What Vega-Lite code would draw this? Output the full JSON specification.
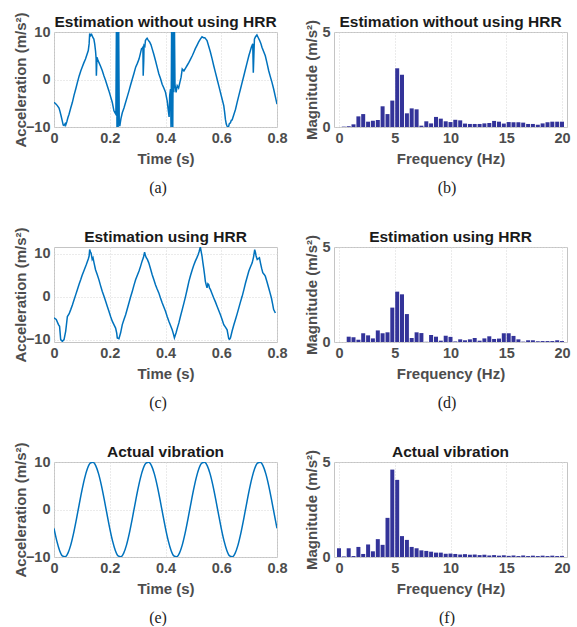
{
"$schema": "https://vega.github.io/schema/vega-lite/v6.json",
"padding": {"left": 12, "top": 11, "right": 0, "bottom": 0},
"background": "white",
"config": {
  "view": {"stroke": "#c4c4c4", "strokeWidth": 1},
  "axis": {"labelFont": "Liberation Sans", "labelFontWeight": "bold", "labelFontSize": 14.5, "labelColor": "#4d4d4d", "titleFont": "Liberation Sans", "titleFontWeight": "bold", "titleFontSize": 15, "titleColor": "#4d4d4d", "domain": false, "ticks": false, "gridColor": "#d6d6d6", "gridDash": [1, 2], "labelPadding": 4, "labelOverlap": false, "labelFlush": false},
  "axisX": {"titlePadding": 7},
  "axisY": {"titlePadding": 2},
  "title": {"font": "Liberation Sans", "fontSize": 15.5, "fontWeight": "bold", "color": "#1a1a1a", "frame": "group"}
},
"vconcat": [
 {"hconcat": [
  {"title": {"text": "(a)", "orient": "bottom", "font": "Liberation Serif", "fontSize": 16, "fontWeight": "normal", "color": "#222222", "offset": 13, "anchor": "middle", "dx": 104},
   "vconcat": [{
    "title": {"text": "Estimation without using HRR", "offset": -19},
    "width": 223, "height": 95,
    "data": {"values": [
{"t":0.000,"a":-4.8},{"t":0.006,"a":-5.1},{"t":0.012,"a":-5.5},{"t":0.018,"a":-6.0},{"t":0.021,"a":-6.6},{"t":0.026,"a":-7.8},{"t":0.030,"a":-8.8},{"t":0.033,"a":-9.6},{"t":0.036,"a":-9.7},{"t":0.040,"a":-9.3},{"t":0.042,"a":-9.6},{"t":0.046,"a":-8.9},{"t":0.050,"a":-8.0},{"t":0.054,"a":-7.3},{"t":0.060,"a":-6.0},{"t":0.066,"a":-4.8},{"t":0.072,"a":-3.3},{"t":0.078,"a":-2.0},{"t":0.084,"a":-0.6},{"t":0.090,"a":0.7},{"t":0.096,"a":1.8},{"t":0.101,"a":2.6},{"t":0.107,"a":3.5},{"t":0.113,"a":4.3},{"t":0.118,"a":5.2},{"t":0.123,"a":6.1},{"t":0.126,"a":7.5},{"t":0.128,"a":9.7},{"t":0.131,"a":9.2},{"t":0.135,"a":9.5},{"t":0.139,"a":8.9},{"t":0.143,"a":8.5},{"t":0.146,"a":7.5},{"t":0.149,"a":6.0},{"t":0.151,"a":4.5},{"t":0.152,"a":0.8},{"t":0.153,"a":2.5},{"t":0.154,"a":4.7},{"t":0.157,"a":4.2},{"t":0.161,"a":3.6},{"t":0.167,"a":2.8},{"t":0.173,"a":1.9},{"t":0.179,"a":0.8},{"t":0.185,"a":-0.2},{"t":0.191,"a":-1.3},{"t":0.197,"a":-2.4},{"t":0.203,"a":-3.6},{"t":0.209,"a":-4.8},{"t":0.215,"a":-6.6},{"t":0.219,"a":-7.0},{"t":0.222,"a":-7.3},{"t":0.224,"a":12},{"t":0.226,"a":-11},{"t":0.228,"a":12},{"t":0.230,"a":-11},{"t":0.232,"a":12},{"t":0.234,"a":-8.9},{"t":0.236,"a":-9.8},{"t":0.240,"a":-8.3},{"t":0.245,"a":-7.0},{"t":0.251,"a":-6.0},{"t":0.257,"a":-4.8},{"t":0.263,"a":-3.6},{"t":0.269,"a":-2.4},{"t":0.275,"a":-1.1},{"t":0.281,"a":0.1},{"t":0.287,"a":1.3},{"t":0.293,"a":2.6},{"t":0.299,"a":3.4},{"t":0.305,"a":4.3},{"t":0.310,"a":5.5},{"t":0.314,"a":6.5},{"t":0.317,"a":6.6},{"t":0.319,"a":6.8},{"t":0.320,"a":0.8},{"t":0.322,"a":4.0},{"t":0.323,"a":7.2},{"t":0.326,"a":7.0},{"t":0.328,"a":8.2},{"t":0.331,"a":8.5},{"t":0.334,"a":8.7},{"t":0.338,"a":8.3},{"t":0.343,"a":7.9},{"t":0.348,"a":7.3},{"t":0.352,"a":6.5},{"t":0.358,"a":5.3},{"t":0.364,"a":4.0},{"t":0.370,"a":2.6},{"t":0.376,"a":1.2},{"t":0.382,"a":0.2},{"t":0.388,"a":-1.0},{"t":0.394,"a":-1.8},{"t":0.400,"a":-2.7},{"t":0.406,"a":-4.5},{"t":0.410,"a":-6.5},{"t":0.413,"a":-7.9},{"t":0.415,"a":-3.4},{"t":0.418,"a":-2.0},{"t":0.420,"a":-11},{"t":0.422,"a":12},{"t":0.424,"a":-2.5},{"t":0.426,"a":-11},{"t":0.428,"a":12},{"t":0.430,"a":-2.7},{"t":0.432,"a":12},{"t":0.434,"a":-1.0},{"t":0.438,"a":-2.7},{"t":0.442,"a":-1.3},{"t":0.447,"a":-1.8},{"t":0.452,"a":-0.5},{"t":0.456,"a":0.5},{"t":0.460,"a":2.2},{"t":0.466,"a":1.8},{"t":0.472,"a":2.4},{"t":0.478,"a":3.0},{"t":0.484,"a":3.6},{"t":0.490,"a":4.3},{"t":0.496,"a":5.0},{"t":0.502,"a":5.8},{"t":0.507,"a":6.5},{"t":0.513,"a":7.2},{"t":0.519,"a":7.9},{"t":0.525,"a":8.5},{"t":0.531,"a":9.0},{"t":0.536,"a":8.8},{"t":0.541,"a":8.8},{"t":0.545,"a":8.5},{"t":0.549,"a":8.2},{"t":0.555,"a":7.0},{"t":0.561,"a":5.8},{"t":0.567,"a":4.4},{"t":0.573,"a":2.9},{"t":0.579,"a":1.5},{"t":0.585,"a":0.1},{"t":0.591,"a":-1.3},{"t":0.597,"a":-2.7},{"t":0.603,"a":-4.1},{"t":0.609,"a":-5.5},{"t":0.612,"a":-6.8},{"t":0.615,"a":-8.4},{"t":0.618,"a":-9.4},{"t":0.621,"a":-9.8},{"t":0.625,"a":-10.2},{"t":0.629,"a":-9.3},{"t":0.633,"a":-9.1},{"t":0.636,"a":-8.6},{"t":0.639,"a":-8.5},{"t":0.645,"a":-7.4},{"t":0.651,"a":-6.3},{"t":0.657,"a":-4.8},{"t":0.663,"a":-3.4},{"t":0.669,"a":-2.0},{"t":0.675,"a":-0.6},{"t":0.681,"a":0.8},{"t":0.687,"a":2.2},{"t":0.693,"a":3.6},{"t":0.699,"a":5.0},{"t":0.704,"a":6.0},{"t":0.708,"a":6.8},{"t":0.713,"a":7.5},{"t":0.715,"a":1.4},{"t":0.717,"a":5.0},{"t":0.719,"a":8.5},{"t":0.723,"a":9.0},{"t":0.728,"a":9.4},{"t":0.732,"a":8.9},{"t":0.737,"a":8.3},{"t":0.742,"a":7.6},{"t":0.746,"a":6.8},{"t":0.752,"a":5.9},{"t":0.758,"a":5.0},{"t":0.764,"a":3.5},{"t":0.770,"a":1.9},{"t":0.776,"a":0.6},{"t":0.782,"a":-0.6},{"t":0.788,"a":-2.0},{"t":0.794,"a":-3.6},{"t":0.800,"a":-5.2}
    ]},
    "mark": {"type": "line", "color": "#0072BD", "strokeWidth": 1.5, "clip": true},
    "encoding": {
      "x": {"field": "t", "type": "quantitative", "scale": {"domain": [0, 0.8], "nice": false}, "axis": {"title": "Time (s)", "values": [0, 0.2, 0.4, 0.6, 0.8], "format": "~g"}},
      "y": {"field": "a", "type": "quantitative", "scale": {"domain": [-10, 10], "nice": false}, "axis": {"title": "Acceleration (m/s²)", "values": [-10, 0, 10], "titlePadding": -3}}
    }
   }]
  },
  {"title": {"text": "(b)", "orient": "bottom", "font": "Liberation Serif", "fontSize": 16, "fontWeight": "normal", "color": "#222222", "offset": 13, "anchor": "middle", "dx": 113},
   "vconcat": [{
    "title": {"text": "Estimation without using HRR", "offset": -11},
    "width": 233, "height": 95,
    "data": {"values": [
{"f":0.43,"m":0.02},{"f":0.87,"m":0.04},{"f":1.30,"m":0.14},{"f":1.74,"m":0.56},{"f":2.17,"m":0.68},{"f":2.61,"m":0.28},{"f":3.04,"m":0.33},{"f":3.48,"m":0.37},{"f":3.91,"m":1.09},{"f":4.35,"m":0.68},{"f":4.78,"m":1.39},{"f":5.22,"m":3.09},{"f":5.65,"m":2.75},{"f":6.09,"m":0.72},{"f":6.52,"m":0.98},{"f":6.96,"m":0.93},{"f":7.39,"m":0.07},{"f":7.83,"m":0.30},{"f":8.26,"m":0.19},{"f":8.70,"m":0.53},{"f":9.13,"m":0.44},{"f":9.57,"m":0.30},{"f":10.00,"m":0.26},{"f":10.43,"m":0.38},{"f":10.87,"m":0.35},{"f":11.30,"m":0.18},{"f":11.74,"m":0.16},{"f":12.17,"m":0.16},{"f":12.61,"m":0.16},{"f":13.04,"m":0.19},{"f":13.48,"m":0.21},{"f":13.91,"m":0.32},{"f":14.35,"m":0.28},{"f":14.78,"m":0.18},{"f":15.22,"m":0.26},{"f":15.65,"m":0.25},{"f":16.09,"m":0.25},{"f":16.52,"m":0.23},{"f":16.96,"m":0.16},{"f":17.39,"m":0.16},{"f":17.83,"m":0.12},{"f":18.26,"m":0.19},{"f":18.70,"m":0.25},{"f":19.13,"m":0.28},{"f":19.57,"m":0.28},{"f":20.00,"m":0.28}
    ]},
    "mark": {"type": "bar", "color": "#333399", "width": 4, "clip": true},
    "encoding": {
      "x": {"field": "f", "type": "quantitative", "scale": {"domain": [0, 20], "nice": false}, "axis": {"title": "Frequency (Hz)", "values": [0, 5, 10, 15, 20]}},
      "y": {"field": "m", "type": "quantitative", "scale": {"domain": [0, 5], "nice": false}, "axis": {"title": "Magnitude (m/s²)", "values": [0, 5]}}
    }
   }]
  }
 ], "spacing": 16},
 {"hconcat": [
  {"title": {"text": "(c)", "orient": "bottom", "font": "Liberation Serif", "fontSize": 16, "fontWeight": "normal", "color": "#222222", "offset": 13, "anchor": "middle", "dx": 104},
   "vconcat": [{
    "title": {"text": "Estimation using HRR", "offset": -19},
    "width": 223, "height": 95,
    "data": {"values": [
{"t":0.000,"a":-4.9},{"t":0.008,"a":-5.3},{"t":0.016,"a":-6.5},{"t":0.020,"a":-6.9},{"t":0.024,"a":-10.0},{"t":0.030,"a":-10.4},{"t":0.036,"a":-10.0},{"t":0.042,"a":-8.0},{"t":0.048,"a":-4.6},{"t":0.054,"a":-4.0},{"t":0.060,"a":-3.0},{"t":0.066,"a":-1.9},{"t":0.072,"a":-0.7},{"t":0.078,"a":0.5},{"t":0.084,"a":1.7},{"t":0.090,"a":2.9},{"t":0.096,"a":4.0},{"t":0.101,"a":5.0},{"t":0.107,"a":6.0},{"t":0.116,"a":7.5},{"t":0.123,"a":8.8},{"t":0.126,"a":9.5},{"t":0.128,"a":11.0},{"t":0.131,"a":10.3},{"t":0.133,"a":10.2},{"t":0.137,"a":8.7},{"t":0.140,"a":9.1},{"t":0.144,"a":7.8},{"t":0.149,"a":6.3},{"t":0.155,"a":5.2},{"t":0.161,"a":4.0},{"t":0.167,"a":2.6},{"t":0.173,"a":1.3},{"t":0.179,"a":0.2},{"t":0.185,"a":-1.0},{"t":0.191,"a":-2.2},{"t":0.197,"a":-3.4},{"t":0.203,"a":-4.6},{"t":0.209,"a":-5.7},{"t":0.215,"a":-6.5},{"t":0.221,"a":-7.3},{"t":0.225,"a":-8.5},{"t":0.227,"a":-9.6},{"t":0.233,"a":-9.8},{"t":0.239,"a":-8.4},{"t":0.245,"a":-6.5},{"t":0.251,"a":-5.3},{"t":0.257,"a":-4.2},{"t":0.263,"a":-2.8},{"t":0.269,"a":-1.4},{"t":0.275,"a":0.0},{"t":0.281,"a":1.3},{"t":0.287,"a":2.7},{"t":0.293,"a":4.0},{"t":0.299,"a":5.0},{"t":0.305,"a":6.0},{"t":0.311,"a":7.2},{"t":0.316,"a":8.3},{"t":0.321,"a":9.2},{"t":0.325,"a":10.4},{"t":0.328,"a":9.6},{"t":0.331,"a":9.1},{"t":0.335,"a":8.7},{"t":0.340,"a":7.9},{"t":0.346,"a":6.6},{"t":0.352,"a":5.2},{"t":0.358,"a":4.0},{"t":0.364,"a":2.8},{"t":0.370,"a":1.8},{"t":0.376,"a":0.9},{"t":0.382,"a":-0.3},{"t":0.388,"a":-1.4},{"t":0.394,"a":-2.4},{"t":0.400,"a":-3.4},{"t":0.406,"a":-4.6},{"t":0.412,"a":-5.7},{"t":0.418,"a":-6.7},{"t":0.424,"a":-7.7},{"t":0.428,"a":-8.6},{"t":0.432,"a":-9.6},{"t":0.435,"a":-9.0},{"t":0.438,"a":-8.4},{"t":0.443,"a":-7.2},{"t":0.448,"a":-6.1},{"t":0.454,"a":-4.5},{"t":0.460,"a":-3.0},{"t":0.466,"a":-1.5},{"t":0.472,"a":0.1},{"t":0.478,"a":1.8},{"t":0.484,"a":3.6},{"t":0.490,"a":5.0},{"t":0.496,"a":6.3},{"t":0.501,"a":7.3},{"t":0.507,"a":8.3},{"t":0.512,"a":9.0},{"t":0.517,"a":9.8},{"t":0.521,"a":10.6},{"t":0.525,"a":11.6},{"t":0.528,"a":10.5},{"t":0.531,"a":9.5},{"t":0.534,"a":8.0},{"t":0.537,"a":6.7},{"t":0.540,"a":5.2},{"t":0.543,"a":3.6},{"t":0.546,"a":2.8},{"t":0.549,"a":2.1},{"t":0.552,"a":3.0},{"t":0.555,"a":2.8},{"t":0.558,"a":2.0},{"t":0.561,"a":1.7},{"t":0.567,"a":0.7},{"t":0.573,"a":-0.3},{"t":0.579,"a":-1.2},{"t":0.585,"a":-2.2},{"t":0.591,"a":-3.2},{"t":0.597,"a":-4.2},{"t":0.603,"a":-5.3},{"t":0.609,"a":-6.5},{"t":0.615,"a":-7.1},{"t":0.621,"a":-7.7},{"t":0.624,"a":-8.8},{"t":0.627,"a":-9.8},{"t":0.630,"a":-9.9},{"t":0.633,"a":-9.6},{"t":0.636,"a":-8.8},{"t":0.639,"a":-8.0},{"t":0.645,"a":-6.6},{"t":0.651,"a":-5.3},{"t":0.657,"a":-4.0},{"t":0.663,"a":-2.6},{"t":0.669,"a":-1.2},{"t":0.675,"a":0.1},{"t":0.681,"a":1.6},{"t":0.687,"a":3.2},{"t":0.693,"a":4.6},{"t":0.699,"a":6.0},{"t":0.705,"a":7.0},{"t":0.711,"a":7.9},{"t":0.716,"a":9.3},{"t":0.720,"a":11.0},{"t":0.723,"a":10.2},{"t":0.725,"a":9.5},{"t":0.729,"a":8.7},{"t":0.733,"a":8.9},{"t":0.737,"a":9.1},{"t":0.741,"a":7.8},{"t":0.745,"a":6.6},{"t":0.749,"a":5.6},{"t":0.754,"a":5.2},{"t":0.758,"a":4.8},{"t":0.764,"a":3.5},{"t":0.770,"a":2.1},{"t":0.775,"a":0.9},{"t":0.780,"a":-0.3},{"t":0.784,"a":-1.6},{"t":0.788,"a":-3.0},{"t":0.792,"a":-3.5},{"t":0.794,"a":-3.8}
    ]},
    "mark": {"type": "line", "color": "#0072BD", "strokeWidth": 1.5, "clip": true},
    "encoding": {
      "x": {"field": "t", "type": "quantitative", "scale": {"domain": [0, 0.8], "nice": false}, "axis": {"title": "Time (s)", "values": [0, 0.2, 0.4, 0.6, 0.8], "format": "~g"}},
      "y": {"field": "a", "type": "quantitative", "scale": {"domain": [-10.55, 11.6], "nice": false}, "axis": {"title": "Acceleration (m/s²)", "values": [-10, 0, 10], "titlePadding": -3}}
    }
   }]
  },
  {"title": {"text": "(d)", "orient": "bottom", "font": "Liberation Serif", "fontSize": 16, "fontWeight": "normal", "color": "#222222", "offset": 13, "anchor": "middle", "dx": 113},
   "vconcat": [{
    "title": {"text": "Estimation using HRR", "offset": -11},
    "width": 233, "height": 95,
    "data": {"values": [
{"f":0.87,"m":0.28},{"f":1.30,"m":0.25},{"f":1.74,"m":0.12},{"f":2.17,"m":0.46},{"f":2.61,"m":0.35},{"f":3.04,"m":0.19},{"f":3.48,"m":0.61},{"f":3.91,"m":0.46},{"f":4.35,"m":0.51},{"f":4.78,"m":1.81},{"f":5.22,"m":2.65},{"f":5.65,"m":2.51},{"f":6.09,"m":1.47},{"f":6.52,"m":0.21},{"f":6.96,"m":0.51},{"f":7.39,"m":0.47},{"f":7.83,"m":0.01},{"f":8.26,"m":0.37},{"f":8.70,"m":0.28},{"f":9.13,"m":0.07},{"f":9.57,"m":0.33},{"f":10.00,"m":0.27},{"f":10.43,"m":0.03},{"f":10.87,"m":0.14},{"f":11.30,"m":0.09},{"f":11.74,"m":0.14},{"f":12.17,"m":0.21},{"f":12.61,"m":0.07},{"f":13.04,"m":0.19},{"f":13.48,"m":0.30},{"f":13.91,"m":0.16},{"f":14.35,"m":0.18},{"f":14.78,"m":0.46},{"f":15.22,"m":0.46},{"f":15.65,"m":0.32},{"f":16.09,"m":0.14},{"f":16.52,"m":0.02},{"f":16.96,"m":0.09},{"f":17.39,"m":0.09},{"f":17.83,"m":0.04},{"f":18.26,"m":0.05},{"f":18.70,"m":0.05},{"f":19.13,"m":0.05},{"f":19.57,"m":0.09},{"f":20.00,"m":0.05}
    ]},
    "mark": {"type": "bar", "color": "#333399", "width": 4, "clip": true},
    "encoding": {
      "x": {"field": "f", "type": "quantitative", "scale": {"domain": [0, 20], "nice": false}, "axis": {"title": "Frequency (Hz)", "values": [0, 5, 10, 15, 20]}},
      "y": {"field": "m", "type": "quantitative", "scale": {"domain": [0, 5], "nice": false}, "axis": {"title": "Magnitude (m/s²)", "values": [0, 5]}}
    }
   }]
  }
 ], "spacing": 16},
 {"hconcat": [
  {"title": {"text": "(e)", "orient": "bottom", "font": "Liberation Serif", "fontSize": 16, "fontWeight": "normal", "color": "#222222", "offset": 13, "anchor": "middle", "dx": 104},
   "vconcat": [{
    "title": {"text": "Actual vibration", "offset": -19},
    "width": 223, "height": 95,
    "data": {"values": [
{"t":0.00,"a":-3.97},{"t":0.01,"a":-6.61},{"t":0.02,"a":-8.61},{"t":0.03,"a":-9.76},{"t":0.04,"a":-9.96},{"t":0.05,"a":-9.18},{"t":0.06,"a":-7.50},{"t":0.07,"a":-5.09},{"t":0.08,"a":-2.18},{"t":0.09,"a":0.94},{"t":0.10,"a":3.97},{"t":0.11,"a":6.61},{"t":0.12,"a":8.61},{"t":0.13,"a":9.76},{"t":0.14,"a":9.96},{"t":0.15,"a":9.18},{"t":0.16,"a":7.50},{"t":0.17,"a":5.09},{"t":0.18,"a":2.18},{"t":0.19,"a":-0.94},
{"t":0.20,"a":-3.97},{"t":0.21,"a":-6.61},{"t":0.22,"a":-8.61},{"t":0.23,"a":-9.76},{"t":0.24,"a":-9.96},{"t":0.25,"a":-9.18},{"t":0.26,"a":-7.50},{"t":0.27,"a":-5.09},{"t":0.28,"a":-2.18},{"t":0.29,"a":0.94},{"t":0.30,"a":3.97},{"t":0.31,"a":6.61},{"t":0.32,"a":8.61},{"t":0.33,"a":9.76},{"t":0.34,"a":9.96},{"t":0.35,"a":9.18},{"t":0.36,"a":7.50},{"t":0.37,"a":5.09},{"t":0.38,"a":2.18},{"t":0.39,"a":-0.94},
{"t":0.40,"a":-3.97},{"t":0.41,"a":-6.61},{"t":0.42,"a":-8.61},{"t":0.43,"a":-9.76},{"t":0.44,"a":-9.96},{"t":0.45,"a":-9.18},{"t":0.46,"a":-7.50},{"t":0.47,"a":-5.09},{"t":0.48,"a":-2.18},{"t":0.49,"a":0.94},{"t":0.50,"a":3.97},{"t":0.51,"a":6.61},{"t":0.52,"a":8.61},{"t":0.53,"a":9.76},{"t":0.54,"a":9.96},{"t":0.55,"a":9.18},{"t":0.56,"a":7.50},{"t":0.57,"a":5.09},{"t":0.58,"a":2.18},{"t":0.59,"a":-0.94},
{"t":0.60,"a":-3.97},{"t":0.61,"a":-6.61},{"t":0.62,"a":-8.61},{"t":0.63,"a":-9.76},{"t":0.64,"a":-9.96},{"t":0.65,"a":-9.18},{"t":0.66,"a":-7.50},{"t":0.67,"a":-5.09},{"t":0.68,"a":-2.18},{"t":0.69,"a":0.94},{"t":0.70,"a":3.97},{"t":0.71,"a":6.61},{"t":0.72,"a":8.61},{"t":0.73,"a":9.76},{"t":0.74,"a":9.96},{"t":0.75,"a":9.18},{"t":0.76,"a":7.50},{"t":0.77,"a":5.09},{"t":0.78,"a":2.18},{"t":0.79,"a":-0.94},{"t":0.80,"a":-3.97}
    ]},
    "mark": {"type": "line", "color": "#0072BD", "strokeWidth": 1.5, "clip": true, "interpolate": "monotone"},
    "encoding": {
      "x": {"field": "t", "type": "quantitative", "scale": {"domain": [0, 0.8], "nice": false}, "axis": {"title": "Time (s)", "values": [0, 0.2, 0.4, 0.6, 0.8], "format": "~g"}},
      "y": {"field": "a", "type": "quantitative", "scale": {"domain": [-10, 10], "nice": false}, "axis": {"title": "Acceleration (m/s²)", "values": [-10, 0, 10], "titlePadding": -3}}
    }
   }]
  },
  {"title": {"text": "(f)", "orient": "bottom", "font": "Liberation Serif", "fontSize": 16, "fontWeight": "normal", "color": "#222222", "offset": 13, "anchor": "middle", "dx": 113},
   "vconcat": [{
    "title": {"text": "Actual vibration", "offset": -11},
    "width": 233, "height": 95,
    "data": {"values": [
{"f":0.00,"m":0.46},{"f":0.43,"m":0.03},{"f":0.87,"m":0.46},{"f":1.30,"m":0.05},{"f":1.74,"m":0.53},{"f":2.17,"m":0.16},{"f":2.61,"m":0.66},{"f":3.04,"m":0.30},{"f":3.48,"m":0.94},{"f":3.91,"m":0.64},{"f":4.35,"m":2.06},{"f":4.78,"m":4.60},{"f":5.22,"m":4.06},{"f":5.65,"m":1.10},{"f":6.09,"m":0.90},{"f":6.52,"m":0.53},{"f":6.96,"m":0.46},{"f":7.39,"m":0.35},{"f":7.83,"m":0.32},{"f":8.26,"m":0.28},{"f":8.70,"m":0.23},{"f":9.13,"m":0.23},{"f":9.57,"m":0.17},{"f":10.00,"m":0.18},{"f":10.43,"m":0.16},{"f":10.87,"m":0.13},{"f":11.30,"m":0.15},{"f":11.74,"m":0.12},{"f":12.17,"m":0.13},{"f":12.61,"m":0.10},{"f":13.04,"m":0.12},{"f":13.48,"m":0.08},{"f":13.91,"m":0.10},{"f":14.35,"m":0.07},{"f":14.78,"m":0.09},{"f":15.22,"m":0.06},{"f":15.65,"m":0.08},{"f":16.09,"m":0.05},{"f":16.52,"m":0.08},{"f":16.96,"m":0.05},{"f":17.39,"m":0.07},{"f":17.83,"m":0.05},{"f":18.26,"m":0.07},{"f":18.70,"m":0.05},{"f":19.13,"m":0.07},{"f":19.57,"m":0.05},{"f":20.00,"m":0.06}
    ]},
    "mark": {"type": "bar", "color": "#333399", "width": 4, "clip": true},
    "encoding": {
      "x": {"field": "f", "type": "quantitative", "scale": {"domain": [0, 20], "nice": false}, "axis": {"title": "Frequency (Hz)", "values": [0, 5, 10, 15, 20]}},
      "y": {"field": "m", "type": "quantitative", "scale": {"domain": [0, 5], "nice": false}, "axis": {"title": "Magnitude (m/s²)", "values": [0, 5]}}
    }
   }]
  }
 ], "spacing": 16}
],
"spacing": 30
}
